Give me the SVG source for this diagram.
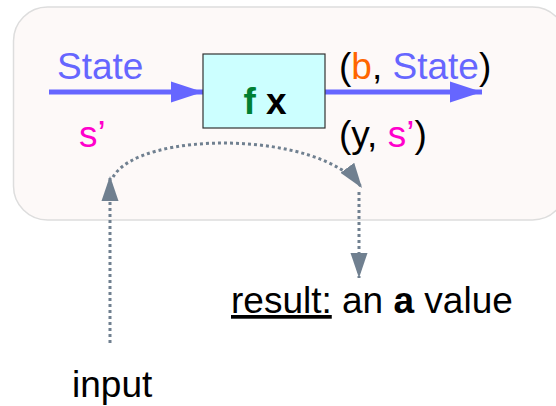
<svg xmlns="http://www.w3.org/2000/svg" width="556" height="406" viewBox="0 0 556 406">
  <defs>
    <style>
      text { font-family: "Liberation Sans", Arial, sans-serif; font-size: 37px; fill: #000; }
      .blue { fill: #6666ff; }
      .orange { fill: #ff6600; }
      .pink { fill: #ff00cc; }
      .green { fill: #008033; }
      .flow { stroke: #6666ff; stroke-width: 5; fill: none; }
      .dot { stroke: #708090; stroke-width: 3; stroke-dasharray: 3 3; fill: none; }
    </style>
    <marker id="blueHead" markerUnits="userSpaceOnUse" markerWidth="34" markerHeight="24" refX="33" refY="12" orient="auto">
      <path d="M1,1.5 L33,12 L1,22.5 Z" fill="#6666ff"/>
    </marker>
    <marker id="grayHead" markerUnits="userSpaceOnUse" markerWidth="26" markerHeight="18" refX="25" refY="9" orient="auto">
      <path d="M0,0.5 L25,9 L0,17.5 Z" fill="#708090"/>
    </marker>
  </defs>

  <!-- background panel -->
  <g id="panel">
    <rect x="13.5" y="7" width="553" height="213" rx="34" ry="34" fill="#fdf9f8" stroke="#dddddd" stroke-width="1.5"/>
  </g>

  <!-- connectors -->
  <g id="connectors">
    <line class="flow" x1="49" y1="92" x2="203" y2="92" marker-end="url(#blueHead)"/>
    <line class="flow" x1="325" y1="92" x2="482" y2="92" marker-end="url(#blueHead)"/>
    <line class="dot" x1="110" y1="343" x2="110" y2="176" marker-end="url(#grayHead)"/>
    <path class="dot" d="M113,177 C140,130 320,130 362,188" marker-end="url(#grayHead)"/>
    <line class="dot" x1="359" y1="192" x2="359" y2="278" marker-end="url(#grayHead)"/>
  </g>

  <!-- function box -->
  <g id="fx">
    <rect x="203" y="54" width="122" height="74" fill="#ccffff" stroke="#333333" stroke-width="1.2"/>
    <text x="265" y="114" text-anchor="middle" font-weight="bold"><tspan class="green">f</tspan> x</text>
  </g>

  <g id="state-in">
    <text class="blue" x="57" y="79">State</text>
  </g>

  <g id="state-out">
    <text x="339" y="79">(<tspan class="orange">b</tspan>, <tspan class="blue">State</tspan>)</text>
  </g>

  <g id="s-prime">
    <text class="pink" x="79" y="147">s’</text>
  </g>

  <g id="pair">
    <text x="339" y="147">(y, <tspan class="pink">s’</tspan>)</text>
  </g>

  <g id="result">
    <text x="231" y="313"><tspan text-decoration="underline">result:</tspan> an <tspan font-weight="bold">a</tspan> value</text>
  </g>

  <g id="input">
    <text x="72" y="397">input</text>
  </g>
</svg>
